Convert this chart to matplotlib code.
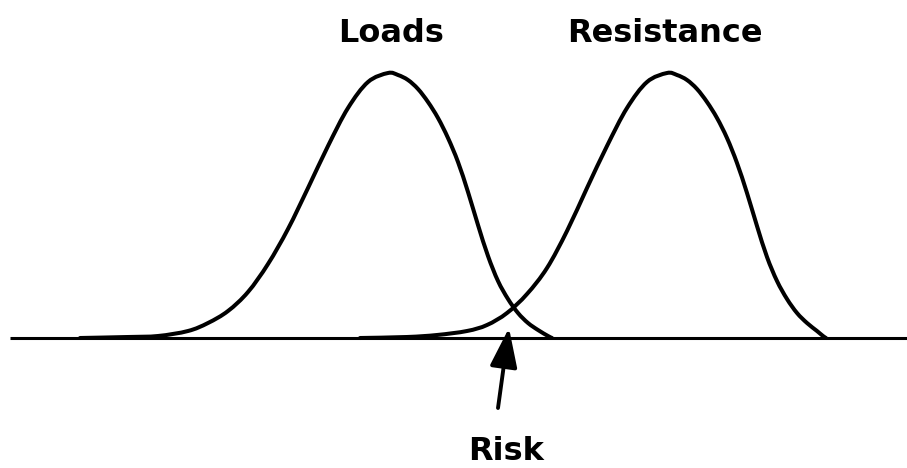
import matplotlib
matplotlib.use("Agg")
import matplotlib.pyplot as plt
from matplotlib.path import Path
from matplotlib.patches import PathPatch

# Loads distribution (x position, height above baseline)
loads_x = [80, 128, 158, 188, 208, 228, 248, 268, 288, 308, 328, 348, 368, 388,
           398, 408, 418, 428, 438, 448, 458, 468, 478, 488, 498, 508, 518, 528,
           538, 548, 552]
loads_y = [0, 1, 2, 7, 15, 27, 46, 74, 109, 150, 192, 230, 256, 265,
           263, 258, 249, 236, 220, 200, 176, 146, 113, 82, 57, 39, 25, 15,
           8, 2, 0]

# Resistance distribution
res_x = [360, 407, 437, 467, 487, 507, 527, 547, 567, 587, 607, 627, 647, 667,
         677, 687, 697, 707, 717, 727, 737, 747, 757, 767, 777, 787, 797, 807,
         817, 823, 826]
res_y = [0, 1, 3, 7, 13, 25, 44, 70, 107, 150, 192, 230, 256, 265,
         263, 258, 249, 236, 220, 200, 175, 145, 112, 81, 57, 39, 25, 15,
         7, 2, 0]

labels = ["Loads", "Resistance", "Risk"]
label_pos = [(391, 305), (665, 305), (506, -113)]
baseline_x = [10, 907]
arrow_tail = (498, -70)
arrow_tip = (509, 10)


def smooth_path(xs, ys):
    """Catmull-Rom curve through the read points, drawn as cubic Bezier segments."""
    pts = list(zip(xs, ys))
    n = len(pts)
    verts = [pts[0]]
    codes = [Path.MOVETO]
    for i in range(n - 1):
        p0 = pts[i - 1] if i > 0 else pts[i]
        p1 = pts[i]
        p2 = pts[i + 1]
        p3 = pts[i + 2] if i + 2 < n else pts[i + 1]
        c1 = (p1[0] + (p2[0] - p0[0]) / 6.0, p1[1] + (p2[1] - p0[1]) / 6.0)
        c2 = (p2[0] - (p3[0] - p1[0]) / 6.0, p2[1] - (p3[1] - p1[1]) / 6.0)
        verts += [c1, c2, p2]
        codes += [Path.CURVE4, Path.CURVE4, Path.CURVE4]
    return Path(verts, codes)


fig = plt.figure(figsize=(9.07, 4.68), dpi=100)
ax = fig.add_axes([0, 0, 1, 1])
ax.set_xlim(0, 907)
ax.set_ylim(-130, 338)
ax.axis("off")

ax.plot(baseline_x, [0, 0], color="black", lw=2.2, solid_capstyle="butt")
for xs, ys in [(loads_x, loads_y), (res_x, res_y)]:
    ax.add_patch(PathPatch(smooth_path(xs, ys), facecolor="none", edgecolor="black",
                           lw=2.9, joinstyle="round", capstyle="round"))

ax.annotate("", xy=arrow_tip, xytext=arrow_tail,
            arrowprops=dict(arrowstyle="-|>,head_length=1.2,head_width=0.42",
                            mutation_scale=20, lw=2.8, color="black",
                            shrinkA=0, shrinkB=0))

for t, (x, y) in zip(labels, label_pos):
    ax.text(x, y, t, ha="center", va="center", fontsize=23, fontweight="bold",
            family="DejaVu Sans", color="black")

fig.savefig("out.png", dpi=100)
